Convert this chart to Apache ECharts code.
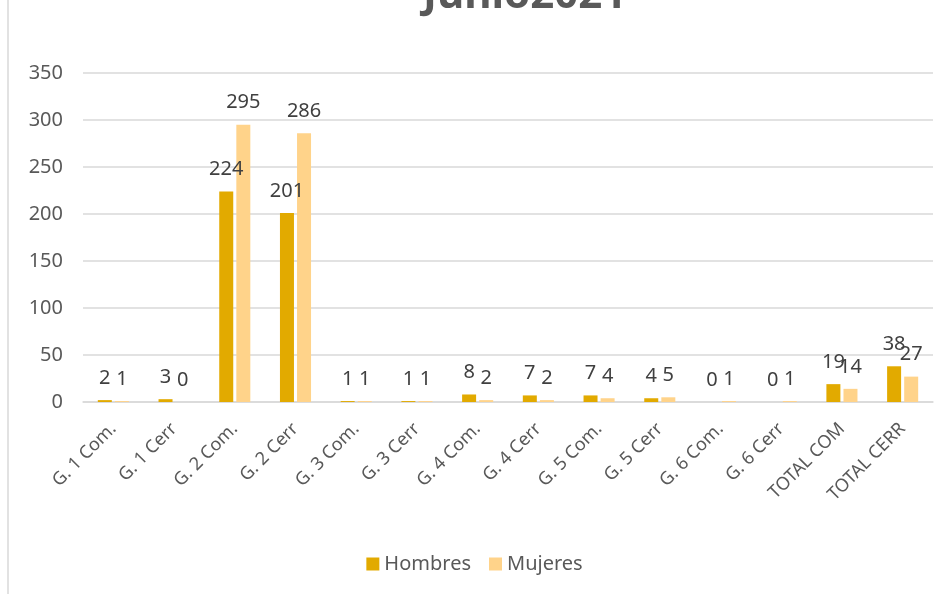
<!DOCTYPE html>
<html>
<head>
<meta charset="utf-8">
<script src="https://cdn.jsdelivr.net/npm/echarts@6/dist/echarts.min.js"></script>
<style>
  html, body { margin: 0; padding: 0; background: #fff; }
  #main { width: 949px; height: 594px; }
</style>
</head>
<body>
<div id="main"></div>
<script>
// categorias y datos
var categorias = ['G. 1 Com.', 'G. 1 Cerr', 'G. 2 Com.', 'G. 2 Cerr', 'G. 3 Com.', 'G. 3 Cerr',
    'G. 4 Com.', 'G. 4 Cerr', 'G. 5 Com.', 'G. 5 Cerr', 'G. 6 Com.', 'G. 6 Cerr', 'TOTAL COM', 'TOTAL CERR'];
var hombres = [2, 3, 224, 201, 1, 1, 8, 7, 7, 4, 0, 0, 19, 38];
var mujeres = [1, 0, 295, 286, 1, 1, 2, 2, 4, 5, 1, 1, 14, 27];
var nombresSeries = ['Hombres', 'Mujeres'];

var fuente = 'Noto Sans';
var chart = echarts.init(document.getElementById('main'));

var etiqueta = {
    show: true,
    position: 'top',
    distance: 12,
    fontSize: 20,
    color: '#404040',
    fontFamily: fuente
};

var option = {
    textStyle: { fontFamily: fuente },
    title: {
        text: 'Junio2021',
        left: 418,
        top: -30,
        textStyle: { fontSize: 42, fontWeight: 'bold', color: '#595959', fontFamily: fuente }
    },
    graphic: [{
        type: 'line',
        shape: { x1: 8, y1: 0, x2: 8, y2: 594 },
        style: { stroke: '#d9d9d9', lineWidth: 1.5 }
    }],
    legend: {
        data: nombresSeries,
        bottom: 15,
        left: 'center',
        itemWidth: 13,
        itemHeight: 13,
        itemGap: 18,
        icon: 'rect',
        textStyle: { fontSize: 20, color: '#595959', fontFamily: fuente }
    },
    grid: { left: 83, right: 16, top: 73, bottom: 192 },
    xAxis: {
        type: 'category',
        data: categorias,
        axisLine: { lineStyle: { color: '#d9d9d9', width: 1.5 } },
        axisTick: { show: false },
        axisLabel: { rotate: 45, fontSize: 18, color: '#595959', margin: 24, interval: 0 }
    },
    yAxis: {
        type: 'value',
        min: 0,
        max: 350,
        interval: 50,
        axisLine: { show: false },
        axisTick: { show: false },
        axisLabel: { fontSize: 20, color: '#595959', margin: 20 },
        splitLine: { lineStyle: { color: '#d9d9d9', width: 1.5 } }
    },
    series: [{
        name: nombresSeries[0],
        type: 'bar',
        data: hombres,
        barWidth: 14,
        barGap: '22%',
        itemStyle: { color: '#E2AA00' },
        label: etiqueta
    }, {
        name: nombresSeries[1],
        type: 'bar',
        data: mujeres,
        barWidth: 14,
        itemStyle: { color: '#FFD38A' },
        label: etiqueta
    }]
};
chart.setOption(option);
</script>
</body>
</html>
